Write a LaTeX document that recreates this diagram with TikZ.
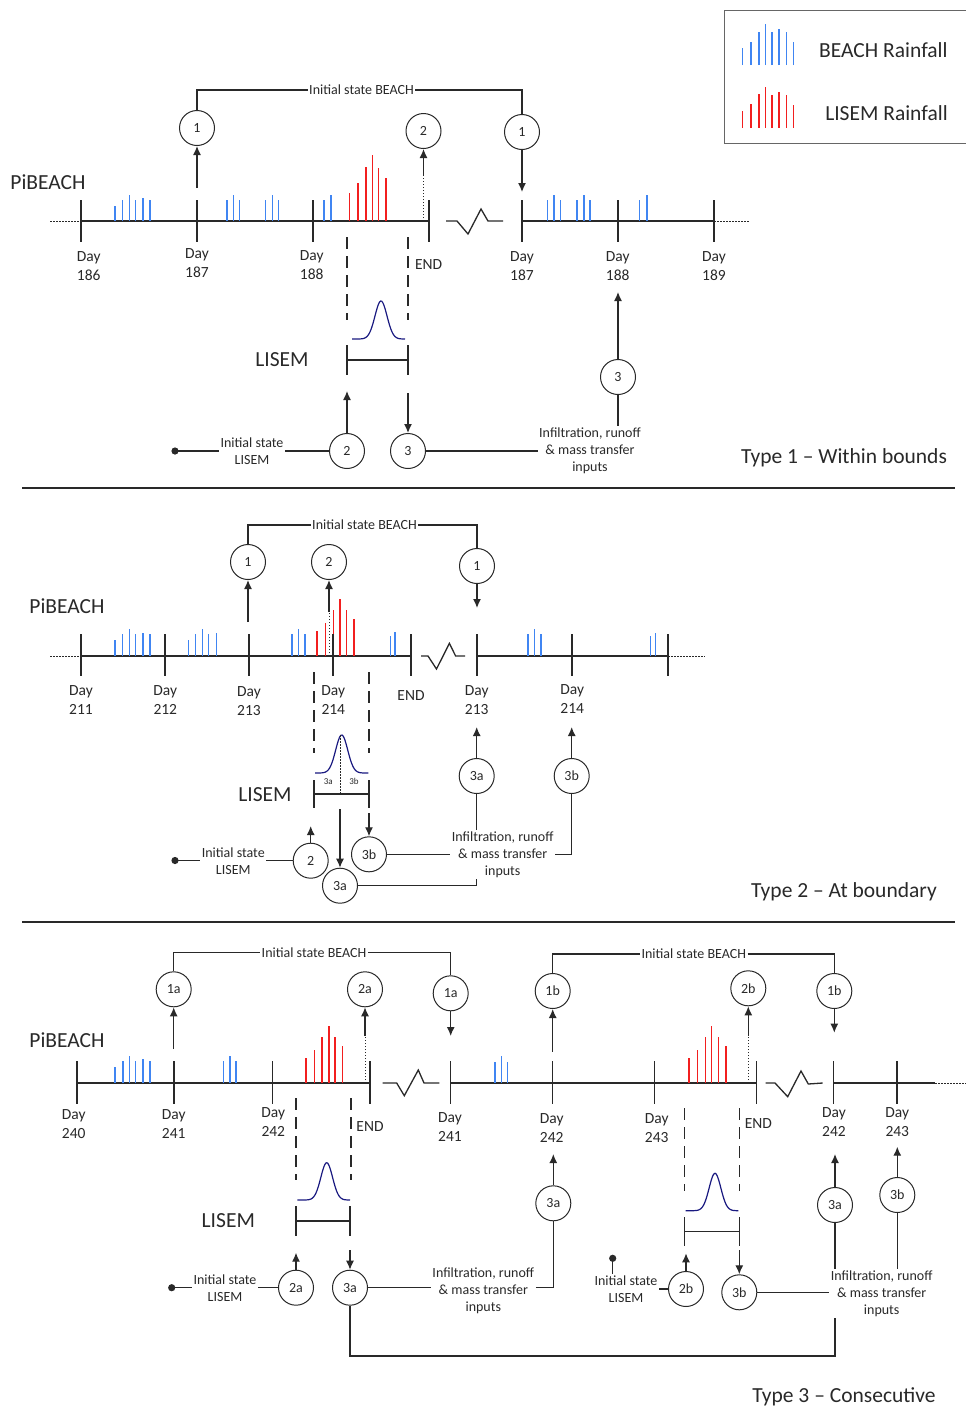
\documentclass[tikz,border=0pt]{standalone}
\usepackage{fontspec}
\setmainfont{Carlito}
\usetikzlibrary{arrows.meta}
\definecolor{beachblue}{rgb}{0.25,0.52,0.95}
\definecolor{lisemred}{rgb}{0.95,0.12,0.12}
\definecolor{gaussnavy}{rgb}{0.1,0.1,0.5}
\definecolor{linegray}{rgb}{0.16,0.16,0.16}

\begin{document}
\begin{tikzpicture}[x=1pt,y=-1pt,>={Latex[length=9pt,width=8pt]},line width=1.3pt,color=linegray,
	numc/.style={circle,draw,line width=1pt,minimum size=35pt,inner sep=0pt,font=\fontsize{14}{16}\selectfont},
	daylab/.style={align=center,font=\fontsize{15.5}{19}\selectfont,inner sep=0pt},
	smalltxt/.style={align=center,font=\fontsize{14}{17}\selectfont,inner sep=1pt},
	tinytxt/.style={font=\fontsize{9}{10}\selectfont,inner sep=0pt},
	bigtxt/.style={font=\fontsize{21.5}{25}\selectfont,inner sep=0pt},
	beachbar/.style={draw=beachblue,line width=1.4pt},
	lisembar/.style={draw=lisemred,line width=1.4pt},
	winline/.style={dash pattern=on 12pt off 7pt,line width=1.1pt},
	dots/.style={dash pattern=on 1.5pt off 1.5pt,line width=1pt},
	gauss/.style={draw=gaussnavy,line width=1.2pt}]

	\useasboundingbox (0,0) rectangle (966,1417);

	% legend
	\draw[draw=black!60,line width=1pt] (724,10) rectangle (970,143);
	\foreach \x/\t/\u in {742.2/47.7/111,750.9/41.7/104.3,758.8/32.3/94.3,765.7/24/86.7,771.8/32.3/95,779/29/91.7,786.3/32.3/95,793.5/42.3/105}{
		\draw[beachbar] (\x,65) -- (\x,\t);
		\draw[lisembar] (\x,127.7) -- (\x,\u);
	}
	\node[bigtxt] (legb) at (883.4,50) {BEACH Rainfall};
	\node[bigtxt] (legl) at (886.5,113) {LISEM Rainfall};

	%%%%% Type 1
	\node[bigtxt] (t1pb) at (48,182) {PiBEACH};
	\draw[dots] (50,221) -- (81,221);
	\draw (81,221) -- (429,221);
	\draw (522,221) -- (714,221);
	\draw[dots] (714,221) -- (750,221);
	\foreach \x/\t in {115/206,122.7/200,129.3/195,135.3/200,143/198,150/200,227/200,233.7/195,239.7/200,265.7/200,272.7/195,278.7/200,324/200,331/195,547.3/200,554/195,560.3/200,577/200,583.8/195,590/200,639.7/200,647/195}
		\draw[beachbar] (\x,221) -- (\x,\t);
	\foreach \x/\t in {349.7/192.7,358/183,366/167,372.3/155,378.7/167.7,386/178}
		\draw[lisembar] (\x,221) -- (\x,\t);
	\foreach \x in {81,197,313,429,522,618,714}
		\draw (\x,200) -- (\x,242);
	\draw (446,221) -- (457,221) -- (468,234) -- (481,209) -- (488,221) -- (503,221);

	\node[daylab] (t1d186) at (88.7,265.8) {Day\\186};
	\node[daylab] (t1d187) at (197,263) {Day\\187};
	\node[daylab] (t1d188) at (311.7,265) {Day\\188};
	\node[daylab] (t1end) at (428.7,265) {END};
	\node[daylab] (t1d187b) at (522,265.8) {Day\\187};
	\node[daylab] (t1d188b) at (617.7,265.8) {Day\\188};
	\node[daylab] (t1d189) at (714,265.8) {Day\\189};

	\node[numc] (t1c1) at (197,128) {1};
	\node[numc] (t1c2) at (423.5,131) {2};
	\node[numc] (t1c1b) at (522,132) {1};
	\node[smalltxt] (t1isb) at (361.5,90) {Initial state BEACH};
	\coordinate (t1a1) at (197,188);
	\coordinate (t1a2) at (423.5,175);
	\coordinate (t1a3) at (522,192);
	\draw[->] (t1a1) -- (t1c1);
	\draw[dots] (423.5,221) -- (t1a2);
	\draw[->] (t1a2) -- (t1c2);
	\draw (t1c1) |- (t1isb.west);
	\draw (t1isb.east) -| (t1c1b);
	\draw[->] (t1c1b) -- (t1a3);

	% LISEM window
	\draw[winline] (347,237) -- (347,320);
	\draw[winline] (408,237) -- (408,320);
	\draw[gauss] plot[domain=352:405,samples=60] (\x,{339-38*exp(-(((\x-381)/8.5)^2))});
	\draw (347,345) -- (347,375) (408,345) -- (408,375) (347,360) -- (408,360);
	\node[bigtxt] (t1lis) at (282,360) {LISEM};

	\node[numc] (t1c2l) at (347,451) {2};
	\node[numc] (t1c3l) at (408,451) {3};
	\node[numc] (t1c3r) at (618,377) {3};
	\coordinate (t1a4) at (347,391);
	\coordinate (t1a5) at (408,393);
	\coordinate (t1a6) at (618,292);
	\coordinate (t1dot) at (175,451);
	\node[smalltxt] (t1isl) at (252,451) {Initial state\\LISEM};
	\node[smalltxt] (t1inf) at (590,450.5) {Infiltration, runoff\\\& mass transfer\\inputs};
	\fill (t1dot) circle (3.6);
	\draw (t1dot) -- (t1isl.west);
	\draw (t1isl.east) -- (t1c2l);
	\draw[->] (t1c2l) -- (t1a4);
	\draw[->] (t1a5) -- (t1c3l);
	\draw (t1c3l) -- (t1c3l -| t1inf.west);
	\draw (t1inf.north -| t1c3r) -- (t1c3r);
	\draw[->] (t1c3r) -- (t1a6);
	\node[bigtxt] (t1type) at (844,458) {Type 1 – Within bounds};

	\draw (22,488) -- (955,488);

	%%%%% Type 2
	\node[bigtxt] (t2pb) at (67,606) {PiBEACH};
	\draw[dots] (50,656) -- (81,656);
	\draw (81,656) -- (411,656);
	\draw (477,656) -- (668,656);
	\draw[dots] (668,656) -- (705,656);
	\foreach \x/\t in {115/640.3,122.7/634,129.3/629,135.3/634,143/632.7,150/634,188.3/640.3,195.7/634,202.7/629,208.7/634,216.7/632.7,292/634,298.7/629,305/634,390.7/635.7,395/632.3,528/634.3,534.6/629.3,541/634.3,650.5/636,655.3/633}
		\draw[beachbar] (\x,656) -- (\x,\t);
	\foreach \x/\t in {317/631.3,325.7/623.3,333.3/610,340/599.3,346.3/610.3,354/619}
		\draw[lisembar] (\x,656) -- (\x,\t);
	\foreach \x in {81,165,249,333,411,477,572,668}
		\draw (\x,634) -- (\x,676);
	\draw (421,656) -- (428,656) -- (436.5,669) -- (449.4,643.3) -- (455.6,656) -- (465,656);

	\node[daylab] (t2d211) at (81,700.3) {Day\\211};
	\node[daylab] (t2d212) at (165.3,700.3) {Day\\212};
	\node[daylab] (t2d213) at (249,701.2) {Day\\213};
	\node[daylab] (t2d214) at (333.3,699.7) {Day\\214};
	\node[daylab] (t2end) at (411,696) {END};
	\node[daylab] (t2d213b) at (476.7,700) {Day\\213};
	\node[daylab] (t2d214b) at (572.2,699.5) {Day\\214};

	\node[numc] (t2c1) at (248,562) {1};
	\node[numc] (t2c2) at (329,562) {2};
	\node[numc] (t2c1b) at (477,566) {1};
	\node[smalltxt] (t2isb) at (364.5,525) {Initial state BEACH};
	\coordinate (t2a1) at (248,622);
	\coordinate (t2a2) at (329,612);
	\coordinate (t2a3) at (477,608);
	\draw[->] (t2a1) -- (t2c1);
	\draw[dots] (329,656) -- (t2a2);
	\draw[->] (t2a2) -- (t2c2);
	\draw (t2c1) |- (t2isb.west);
	\draw (t2isb.east) -| (t2c1b);
	\draw[->] (t2c1b) -- (t2a3);

	% LISEM window split
	\draw[winline] (314,672) -- (314,753);
	\draw[winline] (369,672) -- (369,753);
	\draw[gauss] plot[domain=315:368.3,samples=60] (\x,{773-38*exp(-(((\x-341.7)/8.5)^2))});
	\draw[dots] (340,735) -- (340,794);
	\node[tinytxt] (t2s3a) at (328.3,781.7) {3a};
	\node[tinytxt] (t2s3b) at (354,781.7) {3b};
	\draw (314,780) -- (314,808) (369,780) -- (369,808) (314,794) -- (369,794);
	\node[bigtxt] (t2lis) at (265,795) {LISEM};

	\node[numc] (t2c2l) at (310.7,860.7) {2};
	\node[numc] (t2c3bl) at (369,854.3) {3b};
	\node[numc] (t2c3al) at (340,885.7) {3a};
	\node[numc] (t2c3ar) at (476.7,776) {3a};
	\node[numc] (t2c3br) at (571.7,776) {3b};
	\coordinate (t2a4) at (310.7,826);
	\coordinate (t2a5) at (340,809);
	\coordinate (t2a6) at (369,813);
	\coordinate (t2a7) at (476.7,727);
	\coordinate (t2a8) at (571.7,727);
	\coordinate (t2dot) at (175,860.5);
	\node[smalltxt] (t2isl) at (233.3,861.3) {Initial state\\LISEM};
	\node[smalltxt] (t2inf) at (502.7,854.5) {Infiltration, runoff\\\& mass transfer\\inputs};
	\fill (t2dot) circle (3.6);
	\draw (t2dot) -- (t2dot -| t2isl.west);
	\draw (t2isl.east |- t2c2l) -- (t2c2l);
	\draw[->] (t2c2l) -- (t2a4);
	\draw[->] (t2a5) -- (t2c3al);
	\draw[->] (t2a6) -- (t2c3bl);
	\draw (t2c3bl) -- (t2c3bl -| t2inf.west);
	\draw (t2c3bl -| t2inf.east) -| (t2c3br);
	\draw (t2c3al) -| (t2inf.south -| t2c3ar);
	\draw (t2inf.north -| t2c3ar) -- (t2c3ar);
	\draw[->] (t2c3ar) -- (t2a7);
	\draw[->] (t2c3br) -- (t2a8);
	\node[bigtxt] (t2type) at (844,892) {Type 2 – At boundary};

	\draw (22,922) -- (955,922);

	%%%%% Type 3
	\node[bigtxt] (t3pb) at (67,1040) {PiBEACH};
	\draw (77,1083) -- (370,1083);
	\draw (450.7,1083) -- (756.7,1083);
	\draw (833.3,1083) -- (935,1083);
	\draw[dots] (935,1083) -- (966,1083);
	\foreach \x/\t in {115/1067.3,123/1061,129.3/1056,135.7/1061,143/1059.3,150/1061,223.3/1061,230/1056,236/1061,495/1061.7,501.7/1056,507.7/1061.7}
		\draw[beachbar] (\x,1083) -- (\x,\t);
	\foreach \x/\t in {306/1058.3,314.7/1050,322/1037.3,329/1026,335/1037.3,342.7/1046,689/1058.3,697.7/1050,705.7/1037.3,711.7/1026,718.3/1037.3,726/1046}
		\draw[lisembar] (\x,1083) -- (\x,\t);
	\foreach \x in {77,174,272.7,370,450.7,552.3,654.3,756.7,833.3,897}
		\draw (\x,1061) -- (\x,1103.5);
	\draw (382.7,1083) -- (396.7,1083) -- (404.3,1095.7) -- (418.3,1070) -- (424,1083) -- (439.3,1083);
	\draw (765.7,1083) -- (775,1083) -- (787.7,1096.7) -- (801,1071) -- (808.3,1084) -- (822.7,1083);

	\node[daylab] (t3d240) at (73.7,1124.5) {Day\\240};
	\node[daylab] (t3d241) at (173.7,1124.5) {Day\\241};
	\node[daylab] (t3d242) at (273.3,1122.2) {Day\\242};
	\node[daylab] (t3end) at (370,1126.7) {END};
	\node[daylab] (t3d241b) at (450,1127.2) {Day\\241};
	\node[daylab] (t3d242b) at (551.7,1127.8) {Day\\242};
	\node[daylab] (t3d243) at (656.7,1127.8) {Day\\243};
	\node[daylab] (t3endb) at (758.3,1124) {END};
	\node[daylab] (t3d242c) at (834,1122.2) {Day\\242};
	\node[daylab] (t3d243b) at (897.3,1122) {Day\\243};

	\node[numc] (t3c1a) at (173.7,989.3) {1a};
	\node[numc] (t3c2a) at (365,989.3) {2a};
	\node[numc] (t3c1ar) at (450.7,993.3) {1a};
	\node[numc] (t3c1b) at (552.7,991) {1b};
	\node[numc] (t3c2b) at (748.3,988.3) {2b};
	\node[numc] (t3c1br) at (834.3,991) {1b};
	\node[smalltxt] (t3isa) at (314,952.7) {Initial state BEACH};
	\node[smalltxt] (t3isb) at (693.8,954) {Initial state BEACH};
	\coordinate (t3a1) at (173.7,1049);
	\coordinate (t3a2) at (365,1036);
	\coordinate (t3a3) at (450.7,1036);
	\coordinate (t3a4) at (552.7,1051.7);
	\coordinate (t3a5) at (748.3,1036);
	\coordinate (t3a6) at (834.3,1032.7);
	\draw[->] (t3a1) -- (t3c1a);
	\draw[dots] (365,1083) -- (t3a2);
	\draw[->] (t3a2) -- (t3c2a);
	\draw (t3c1a) |- (t3isa.west);
	\draw (t3isa.east) -| (t3c1ar);
	\draw[->] (t3c1ar) -- (t3a3);
	\draw[->] (t3a4) -- (t3c1b);
	\draw[dots] (748.3,1083) -- (t3a5);
	\draw[->] (t3a5) -- (t3c2b);
	\draw (t3c1b) |- (t3isb.west);
	\draw (t3isb.east) -| (t3c1br);
	\draw[->] (t3c1br) -- (t3a6);

	% first LISEM window
	\draw[winline] (296,1098) -- (296,1180);
	\draw[winline] (351,1098) -- (351,1180);
	\draw[gauss] plot[domain=297.3:350,samples=60] (\x,{1200-37.3*exp(-(((\x-326.7)/8.3)^2))});
	\draw (296,1206) -- (296,1236) (350,1206) -- (350,1236) (296,1221) -- (350,1221);
	\node[bigtxt] (t3lis) at (228.3,1221) {LISEM};

	% second LISEM window
	\draw[winline] (684.3,1108) -- (684.3,1190.7);
	\draw[winline] (739.3,1108) -- (739.3,1190.7);
	\draw[gauss] plot[domain=685.7:738.3,samples=60] (\x,{1210.7-37.4*exp(-(((\x-715)/8.3)^2))});
	\draw (684.3,1217.3) -- (684.3,1246) (739.3,1217.3) -- (739.3,1246) (684.3,1231.7) -- (739.3,1231.7);

	\node[numc] (t3c2al) at (296,1287.7) {2a};
	\node[numc] (t3c3al) at (350,1287.7) {3a};
	\node[numc] (t3c3am) at (553.3,1203.3) {3a};
	\node[numc] (t3c2bl) at (686,1289) {2b};
	\node[numc] (t3c3bl) at (739.3,1292.3) {3b};
	\node[numc] (t3c3ar) at (835,1205) {3a};
	\node[numc] (t3c3br) at (897.3,1195) {3b};
	\coordinate (t3a7) at (296,1252.7);
	\coordinate (t3a8) at (350,1250);
	\coordinate (t3a9) at (553.3,1154);
	\coordinate (t3a10) at (686,1253.3);
	\coordinate (t3a11) at (739.3,1250);
	\coordinate (t3a12) at (835,1154);
	\coordinate (t3a13) at (897.3,1146.7);
	\coordinate (t3lp) at (835,1356);
	\coordinate (t3dot) at (171.7,1287.7);
	\coordinate (t3dotb) at (612.7,1258.3);
	\node[smalltxt] (t3isl) at (225,1288) {Initial state\\LISEM};
	\node[smalltxt] (t3islb) at (626,1289.5) {Initial state\\LISEM};
	\node[smalltxt] (t3inf) at (483.3,1290.5) {Infiltration, runoff\\\& mass transfer\\inputs};
	\node[smalltxt] (t3infb) at (881.7,1293.5) {Infiltration, runoff\\\& mass transfer\\inputs};
	\fill (t3dot) circle (3.6);
	\fill (t3dotb) circle (3.6);
	\draw (t3dot) -- (t3dot -| t3isl.west);
	\draw (t3isl.east |- t3c2al) -- (t3c2al);
	\draw (t3dotb) -- (t3dotb |- t3islb.north);
	\draw (t3islb.east |- t3c2bl) -- (t3c2bl);
	\draw[->] (t3c2al) -- (t3a7);
	\draw[->] (t3a8) -- (t3c3al);
	\draw[->] (t3c2bl) -- (t3a10);
	\draw[->] (t3a11) -- (t3c3bl);
	\draw (t3c3al) -- (t3c3al -| t3inf.west);
	\draw (t3c3al -| t3inf.east) -| (t3c3am);
	\draw[->] (t3c3am) -- (t3a9);
	\draw (t3c3al) |- (t3lp) -- (t3infb.south -| t3lp);
	\draw (t3infb.north -| t3c3ar) -- (t3c3ar);
	\draw[->] (t3c3ar) -- (t3a12);
	\draw (t3c3bl) -- (t3c3bl -| t3infb.west);
	\draw (t3infb.north -| t3c3br) -- (t3c3br);
	\draw[->] (t3c3br) -- (t3a13);
	\node[bigtxt] (t3type) at (844,1396.7) {Type 3 – Consecutive};
\end{tikzpicture}
\end{document}
